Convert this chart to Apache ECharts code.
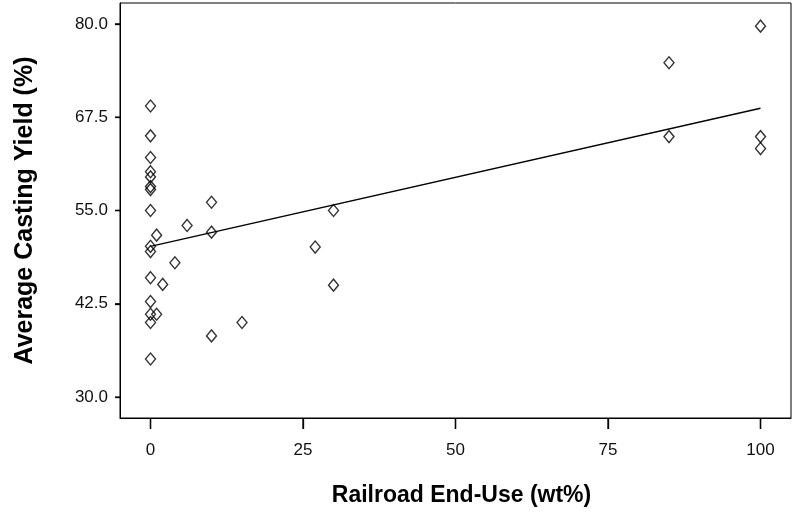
<!DOCTYPE html>
<html>
<head>
<meta charset="utf-8">
<script src="https://cdn.jsdelivr.net/npm/echarts@6/dist/echarts.min.js"></script>
<style>html,body{margin:0;padding:0;background:#fff}#c{width:802px;height:516px}</style>
</head>
<body>
<div id="c"></div>
<script>
// Railroad end-use (wt%) for each casting
const railroadPct = [0, 0, 0, 0, 0, 0, 0, 0, 0, 0, 0, 0, 0, 0, 0,
  1, 1, 2, 4, 6, 10, 10, 10, 15, 27, 30, 30, 85, 85, 100, 100, 100];
// Average casting yield (%)
const castingYield = [69.0, 65.0, 62.1, 60.2, 59.5, 58.2, 57.8, 55.0, 50.2, 49.5, 46.0, 42.8, 41.1, 40.0, 35.1,
  51.7, 41.1, 45.1, 48.0, 53.0, 56.1, 52.1, 38.2, 40.0, 50.1, 55.0, 45.0, 74.8, 64.9, 79.7, 64.9, 63.3];
// Fitted regression line endpoints
const fitX = [0, 100];
const fitY = [50.2, 68.7];
// Tick values
const xTicks = [0, 25, 50, 75, 100];
const yTicks = [30, 42.5, 55, 67.5, 80];

const X_MIN = -5, X_MAX = 105, Y_MIN = 27.2, Y_MAX = 82.8;
const points = railroadPct.map((x, i) => [x, castingYield[i]]);
const fitLine = fitX.map((x, i) => [x, fitY[i]]);

const chart = echarts.init(document.getElementById('c'), null, {renderer: 'canvas'});
const font = 'Liberation Sans, Arial, sans-serif';

function tickRenderer(dx, dy) {
  return function (params, api) {
    const p = api.coord([api.value(0), api.value(1)]);
    return {
      type: 'line',
      shape: {x1: p[0], y1: p[1], x2: p[0] + dx, y2: p[1] + dy},
      style: {stroke: '#000', lineWidth: 1.3}
    };
  };
}

chart.setOption({
  backgroundColor: '#fff',
  animation: false,
  grid: {left: 120, right: 11, top: 3, bottom: 98, show: true, borderColor: '#000', borderWidth: 1, backgroundColor: '#fff'},
  xAxis: {
    type: 'value', min: X_MIN, max: X_MAX,
    name: 'Railroad End-Use (wt%)', nameLocation: 'middle', nameGap: 66,
    nameTextStyle: {fontFamily: font, fontWeight: 'bold', fontSize: 23, color: '#000', padding: [0, 0, 0, 12]},
    axisLine: {show: true, onZero: false, lineStyle: {color: '#000', width: 1}},
    axisTick: {show: true, length: 11, inside: false, customValues: xTicks, lineStyle: {color: '#000', width: 1.3}},
    axisLabel: {customValues: xTicks, fontFamily: font, fontSize: 17, color: '#111', margin: 24},
    splitLine: {show: false}
  },
  yAxis: {
    type: 'value', min: Y_MIN, max: Y_MAX,
    name: 'Average Casting Yield (%)', nameLocation: 'middle', nameGap: 82,
    nameTextStyle: {fontFamily: font, fontWeight: 'bold', fontSize: 25, color: '#000'},
    axisLine: {show: true, onZero: false, lineStyle: {color: '#000', width: 1}},
    axisTick: {show: true, length: 5, inside: false, customValues: yTicks, lineStyle: {color: '#000', width: 1.3}},
    axisLabel: {customValues: yTicks, fontFamily: font, fontSize: 17, color: '#111', margin: 12,
      formatter: v => v.toFixed(1)},
    splitLine: {show: false}
  },
  series: [
    {
      type: 'custom', clip: false, silent: true, z: 1,
      data: xTicks.map(v => [v, Y_MIN]),
      renderItem: tickRenderer(0, 11)
    },
    {
      type: 'custom', clip: false, silent: true, z: 1,
      data: yTicks.map(v => [X_MIN, v]),
      renderItem: tickRenderer(-5, 0)
    },
    {
      type: 'line', data: fitLine, symbol: 'none',
      lineStyle: {color: '#000', width: 1.3}, z: 2
    },
    {
      type: 'scatter', data: points, symbol: 'diamond', symbolSize: [10, 12],
      itemStyle: {color: 'rgba(255,255,255,0)', borderColor: '#000', borderWidth: 1.4}, z: 3
    }
  ]
});
</script>
</body>
</html>
